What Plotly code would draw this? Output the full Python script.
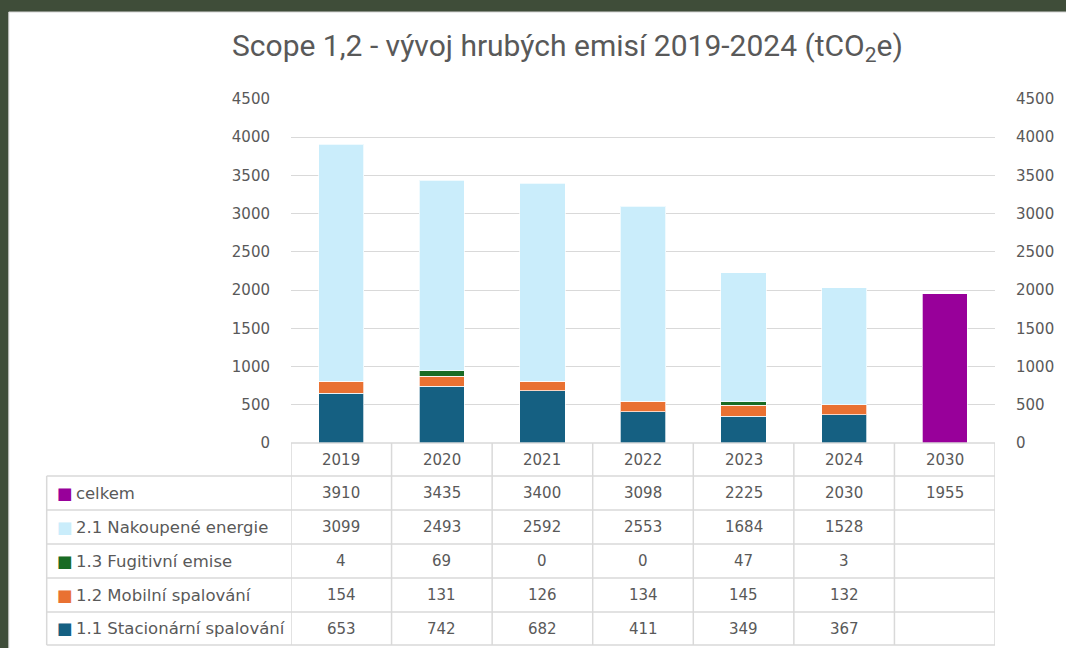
import plotly.graph_objects as go

# data
years = ["2019", "2020", "2021", "2022", "2023", "2024", "2030"]
celkem = [3910, 3435, 3400, 3098, 2225, 2030, 1955]
nakoupene_energie = [3099, 2493, 2592, 2553, 1684, 1528, None]
fugitivni_emise = [4, 69, 0, 0, 47, 3, None]
mobilni_spalovani = [154, 131, 126, 134, 145, 132, None]
stacionarni_spalovani = [653, 742, 682, 411, 349, 367, None]
y_ticks = [0, 500, 1000, 1500, 2000, 2500, 3000, 3500, 4000, 4500]

# series as listed in the data table (top to bottom)
series = [
    ("celkem", celkem, "#98009a"),
    ("2.1 Nakoupené energie", nakoupene_energie, "#caedfb"),
    ("1.3 Fugitivní emise", fugitivni_emise, "#196b24"),
    ("1.2 Mobilní spalování", mobilni_spalovani, "#e97132"),
    ("1.1 Stacionární spalování", stacionarni_spalovani, "#156082"),
]

frame = "#3f4d39"
FW, FH = 1066, 648

# plot area, in window pixels
L, R, T, B = 291, 997, 99, 443
W, H = R - L, B - T
px = lambda p: (p - L) / W
py = lambda p: (B - p) / H

grey = "#595959"
line_c = "#d9d9d9"
font = "DejaVu Sans"

fig = go.Figure()

# stacked bars, bottom first
for name, vals, color in reversed(series[1:]):
    fig.add_trace(go.Bar(x=years, y=vals, name=name, marker_color=color,
                         marker_line=dict(color="rgba(255,255,255,0.7)", width=1),
                         width=0.45))

# celkem only shown as a bar for the 2030 target (secondary axis)
celkem_bar = [v if yr == "2030" else None for yr, v in zip(years, celkem)]
fig.add_trace(go.Bar(x=years, y=celkem_bar, name="celkem", marker_color=series[0][2],
                     marker_line=dict(color="rgba(255,255,255,0.7)", width=1),
                     width=0.45, yaxis="y2"))

shapes = []
annotations = []

# white chart card over the dark frame
shapes.append(dict(type="rect", xref="paper", yref="paper", x0=px(8), x1=px(1090),
                   y0=py(670), y1=py(12), fillcolor="white",
                   line=dict(color="#d4d4d4", width=1), layer="below"))

# data table
row_edges = [443, 476, 510, 544, 578, 612, 645]
label_left = 46
n = len(years)
tl = dict(color=line_c, width=1.5)
shapes.append(dict(type="line", xref="x", yref="paper", x0=-0.5, x1=n - 0.5,
                   y0=py(row_edges[0]), y1=py(row_edges[0]), line=tl))
for e in row_edges[1:]:
    shapes.append(dict(type="line", xref="paper", yref="paper", x0=px(label_left), x1=1,
                       y0=py(e), y1=py(e), line=tl))
for k in range(n + 1):
    shapes.append(dict(type="line", xref="x", yref="paper", x0=k - 0.5, x1=k - 0.5,
                       y0=py(row_edges[0]), y1=py(row_edges[-1]), line=tl))
shapes.append(dict(type="line", xref="paper", yref="paper", x0=px(label_left), x1=px(label_left),
                   y0=py(row_edges[1]), y1=py(row_edges[-1]), line=tl))

# header row (years)
hy = py((row_edges[0] + row_edges[1]) / 2)
for i, yr in enumerate(years):
    annotations.append(dict(x=i, y=hy, xref="x", yref="paper", yanchor="middle", text=yr,
                            showarrow=False, font=dict(family=font, size=15, color=grey)))

# value rows
for r, (name, vals, color) in enumerate(series):
    cy = py((row_edges[r + 1] + row_edges[r + 2]) / 2)
    annotations.append(dict(x=px(54), y=cy, xref="paper", yref="paper", xanchor="left",
                            yanchor="middle", showarrow=False,
                            text=f"<span style='color:{color}'>■</span>\u2009{name}",
                            font=dict(family=font, size=16.5, color=grey)))
    for i, v in enumerate(vals):
        if v is None:
            continue
        annotations.append(dict(x=i, y=cy, xref="x", yref="paper", yanchor="middle", text=str(v),
                                showarrow=False, font=dict(family=font, size=15, color=grey)))

# title
annotations.append(dict(x=px(568), y=py(48), xref="paper", yref="paper", yanchor="middle",
                        showarrow=False,
                        text="Scope 1,2 - vývoj hrubých emisí 2019-2024 (tCO<sub>2</sub>e)",
                        font=dict(family="Roboto, sans-serif", size=30, color=grey)))

fig.update_layout(
    width=FW, height=FH,
    margin=dict(l=L, r=FW - R, t=T, b=FH - B),
    paper_bgcolor=frame, plot_bgcolor="white",
    barmode="stack", showlegend=False,
    xaxis=dict(type="category", categoryorder="array", categoryarray=years,
               showticklabels=False, showgrid=False, zeroline=False, range=[-0.5, n - 0.5]),
    yaxis=dict(range=[0, 4500], tickvals=y_ticks, showgrid=True, gridcolor=line_c, gridwidth=1,
               zeroline=False, ticklabelstandoff=20,
               tickfont=dict(family=font, size=15, color=grey)),
    yaxis2=dict(range=[0, 4500], tickvals=y_ticks, overlaying="y", side="right", showgrid=False,
                zeroline=False, ticklabelstandoff=20,
                tickfont=dict(family=font, size=15, color=grey)),
    shapes=shapes, annotations=annotations,
)

# figure fills the whole window; dark page behind it
fig.write_html("out.html", config={"displayModeBar": False}, post_script=(
    f"document.body.style.margin='0';document.body.style.overflow='hidden';"
    f"document.body.style.background='{frame}';"))
